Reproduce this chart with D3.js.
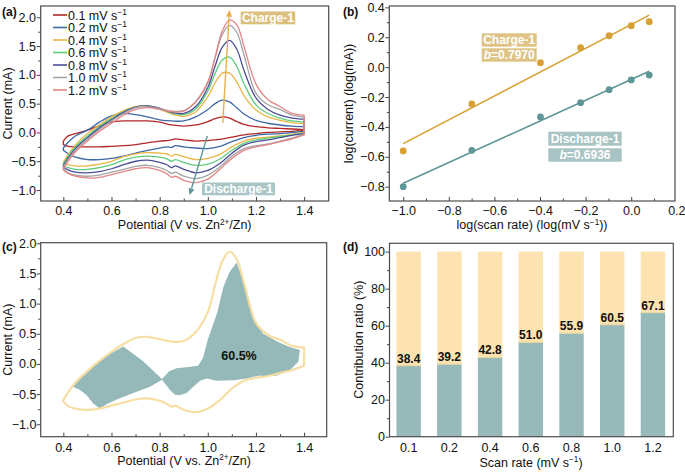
<!DOCTYPE html>
<html><head><meta charset="utf-8">
<script src="https://cdn.jsdelivr.net/npm/d3@7"></script>
<style>body{margin:0;background:#fff}svg{display:block}</style>
</head><body><svg id="c" width="685" height="472"></svg>
<script>
// ---------------- data ----------------
const scanRates = ["0.1", "0.2", "0.4", "0.6", "0.8", "1.0", "1.2"];
const cvColors = ["#b3282a", "#3d69a6", "#e9b647", "#5fcd7f", "#4b4e98", "#a4a4a4", "#e58585"];

// anodic (upper) branches, potential in V, current in mA
const potUp = [0.40,0.42,0.45,0.50,0.55,0.60,0.65,0.70,0.75,0.80,0.85,0.90,0.95,1.00,1.03,1.06,1.09,1.12,1.15,1.20,1.25,1.30,1.35,1.40];
const up01 = [-0.15,-0.06,-0.02,0.04,0.12,0.18,0.20,0.20,0.20,0.18,0.13,0.11,0.13,0.19,0.24,0.27,0.25,0.19,0.14,0.10,0.08,0.07,0.06,0.05];
const up02 = [-0.27,-0.17,-0.06,0.04,0.18,0.29,0.33,0.31,0.27,0.22,0.20,0.20,0.27,0.40,0.50,0.56,0.53,0.43,0.32,0.21,0.16,0.13,0.11,0.10];
const up04 = [-0.52,-0.38,-0.22,-0.02,0.13,0.27,0.38,0.45,0.46,0.40,0.32,0.28,0.36,0.62,0.86,1.03,1.03,0.88,0.64,0.39,0.27,0.21,0.17,0.15];
const up06 = [-0.55,-0.41,-0.25,-0.06,0.10,0.24,0.36,0.44,0.46,0.41,0.34,0.31,0.41,0.72,1.02,1.26,1.31,1.15,0.85,0.48,0.33,0.25,0.20,0.18];
const up08 = [-0.58,-0.44,-0.28,-0.09,0.08,0.22,0.35,0.44,0.46,0.42,0.35,0.33,0.45,0.78,1.15,1.48,1.60,1.45,1.08,0.60,0.40,0.30,0.25,0.23];
const up10 = [-0.60,-0.47,-0.31,-0.12,0.05,0.20,0.33,0.43,0.45,0.41,0.37,0.38,0.53,0.86,1.30,1.70,1.86,1.74,1.35,0.68,0.48,0.40,0.30,0.27];
const up12 = [-0.63,-0.50,-0.34,-0.15,0.02,0.16,0.30,0.40,0.43,0.40,0.36,0.37,0.54,0.88,1.30,1.76,1.95,1.87,1.50,0.84,0.57,0.45,0.33,0.30];

// cathodic (lower) branches
const potDown = [1.40,1.35,1.30,1.25,1.20,1.15,1.10,1.05,1.00,0.95,0.90,0.865,0.85,0.83,0.80,0.75,0.70,0.65,0.60,0.55,0.50,0.45,0.42,0.40];
const down01 = [0.04,0.02,0.01,0.00,-0.02,-0.04,-0.08,-0.12,-0.14,-0.15,-0.13,-0.11,-0.13,-0.14,-0.15,-0.18,-0.21,-0.23,-0.24,-0.25,-0.25,-0.25,-0.24,-0.21];
const down02 = [0.02,0.00,-0.02,-0.03,-0.05,-0.09,-0.16,-0.24,-0.28,-0.27,-0.25,-0.23,-0.26,-0.25,-0.27,-0.31,-0.36,-0.41,-0.45,-0.47,-0.47,-0.43,-0.37,-0.31];
const down04 = [0.00,-0.03,-0.06,-0.08,-0.10,-0.15,-0.25,-0.38,-0.45,-0.47,-0.42,-0.38,-0.41,-0.37,-0.36,-0.35,-0.37,-0.42,-0.50,-0.55,-0.58,-0.58,-0.56,-0.53];
const down06 = [-0.01,-0.04,-0.07,-0.10,-0.13,-0.19,-0.31,-0.46,-0.55,-0.57,-0.52,-0.47,-0.50,-0.46,-0.43,-0.41,-0.43,-0.48,-0.56,-0.61,-0.64,-0.64,-0.61,-0.57];
const down08 = [-0.02,-0.05,-0.09,-0.13,-0.16,-0.22,-0.36,-0.54,-0.66,-0.70,-0.64,-0.58,-0.61,-0.56,-0.52,-0.48,-0.50,-0.56,-0.63,-0.68,-0.70,-0.69,-0.65,-0.60];
const down10 = [-0.03,-0.10,-0.15,-0.20,-0.23,-0.28,-0.41,-0.60,-0.74,-0.80,-0.76,-0.69,-0.71,-0.66,-0.61,-0.57,-0.59,-0.64,-0.69,-0.74,-0.76,-0.74,-0.70,-0.62];
const down12 = [-0.04,-0.11,-0.16,-0.21,-0.25,-0.31,-0.45,-0.64,-0.81,-0.87,-0.83,-0.76,-0.78,-0.72,-0.66,-0.61,-0.63,-0.68,-0.73,-0.78,-0.79,-0.76,-0.71,-0.65];

// panel (a) trend arrows (V, mA)
const chargeArrow = [[1.062, 0.17], [1.090, 2.13]];
const dischargeArrow = [[0.998, -0.06], [0.924, -1.09]];

// panel (b)
const logRate = [-1.0, -0.699, -0.398, -0.222, -0.097, 0.0, 0.079];
const chargeLogI = [-0.561, -0.247, 0.030, 0.130, 0.210, 0.277, 0.304];
const dischargeLogI = [-0.800, -0.557, -0.334, -0.238, -0.151, -0.086, -0.053];
const chargeB = 0.7970, chargeA = 0.285;
const dischargeB = 0.6936, dischargeA = -0.083;

// panel (c) capacitive region at 1.0 mV/s (polygon)
const capV = [0.435,0.48,0.55,0.60,0.649,0.69,0.73,0.77,0.81,0.84,0.87,0.92,0.96,0.98,1.00,1.04,1.065,1.09,1.12,1.162,1.19,1.23,1.29,1.34,1.383,1.376,1.342,1.287,1.23,1.217,1.162,1.106,1.037,0.996,0.968,0.94,0.912,0.885,0.864,0.843,0.81,0.76,0.691,0.622,0.58,0.552,0.525,0.497,0.47];
const capI = [-0.37,-0.18,0.05,0.18,0.29,0.17,0.05,-0.10,-0.25,-0.12,-0.07,-0.05,-0.03,0.10,0.40,0.86,1.28,1.52,1.68,1.22,0.78,0.50,0.37,0.28,0.23,0.035,-0.10,-0.19,-0.21,-0.19,-0.24,-0.27,-0.28,-0.24,-0.28,-0.38,-0.48,-0.52,-0.51,-0.43,-0.26,-0.38,-0.48,-0.59,-0.67,-0.74,-0.66,-0.52,-0.43];
const capLabel = "60.5%";

// panel (d)
const capPct = [38.4, 39.2, 42.8, 51.0, 55.9, 60.5, 67.1];

// ---------------- drawing ----------------
const FONT = '"Liberation Sans", Arial, Helvetica, sans-serif';
const svg = d3.select("#c");
const upSets = [up01, up02, up04, up06, up08, up10, up12];
const downSets = [down01, down02, down04, down06, down08, down10, down12];

function loopPath(k, line) {
  const upPts = potUp.map((v, i) => [v, upSets[k][i]]);
  const dnPts = potDown.map((v, i) => [v, downSets[k][i]]);
  return line(upPts) + "L" + line(dnPts).slice(1) + "Z";
}

function styleAxis(gg) {
  gg.select(".domain").remove();
  gg.selectAll("line").attr("stroke", "#444").attr("stroke-width", 1);
  gg.selectAll("text").attr("font-family", FONT).attr("font-size", 12.5).attr("fill", "#111");
}

function drawAxes(x, y, o) {
  const g = svg.append("g");
  const [x0, x1] = x.range(), [y0, y1] = y.range();
  const fx = o.frameX0 || x0;
  const ax = d3.axisBottom(x).tickValues(o.xMajor).tickFormat(o.xFmt).tickSize(-4).tickSizeOuter(0).tickPadding(o.xPad);
  const axm = d3.axisBottom(x).tickValues(o.xMinor).tickFormat("").tickSize(-2.5).tickSizeOuter(0);
  const ay = d3.axisLeft(y).tickValues(o.yMajor).tickFormat(o.yFmt).tickSize(4).tickSizeOuter(0).tickPadding(o.yPad);
  const aym = d3.axisLeft(y).tickValues(o.yMinor).tickFormat("").tickSize(2.5).tickSizeOuter(0);
  [[ax, "b"], [axm, "b"], [ay, "l"], [aym, "l"]].forEach(([a, s]) => {
    const gg = g.append("g").attr("transform", s === "b" ? `translate(0,${y0})` : `translate(${fx},0)`).call(a);
    styleAxis(gg);
  });
  g.append("rect").attr("x", fx).attr("y", y1).attr("width", x1 - fx).attr("height", y0 - y1)
    .attr("fill", "none").attr("stroke", "#4d4d4d").attr("stroke-width", 1.2);
  return g;
}

function title(x, y, parts, rot) {
  const t = svg.append("text").attr("font-family", FONT).attr("font-size", 12.5).attr("fill", "#111")
    .attr("text-anchor", "middle");
  if (rot) t.attr("transform", `translate(${x},${y}) rotate(-90)`);
  else t.attr("x", x).attr("y", y);
  parts.forEach(p => {
    const ts = t.append("tspan").text(p.t);
    if (p.sup) ts.attr("dy", -4.5).attr("font-size", 8.2);
    if (p.back) ts.attr("dy", 4.5);
  });
  return t;
}
function panelLabel(x, y, s) {
  svg.append("text").attr("x", x).attr("y", y).attr("font-family", FONT).attr("font-size", 12)
    .attr("font-weight", "bold").attr("fill", "#111").text(s);
}
function tagBox(x, y, w, h, fill, parts) {
  svg.append("rect").attr("x", x).attr("y", y).attr("width", w).attr("height", h).attr("fill", fill);
  const t = svg.append("text").attr("x", x + w / 2).attr("y", y + h / 2 + 4.3).attr("text-anchor", "middle")
    .attr("font-family", FONT).attr("font-size", 12).attr("font-weight", "bold").attr("fill", "#fff");
  parts.forEach(p => { const ts = t.append("tspan").text(p.t); if (p.i) ts.attr("font-style", "italic"); });
}
function arrow(p0, p1, color) {
  const dx = p1[0] - p0[0], dy = p1[1] - p0[1], L = Math.hypot(dx, dy), ux = dx / L, uy = dy / L;
  const hl = 7, hw = 3;
  const bx = p1[0] - ux * hl, by = p1[1] - uy * hl;
  svg.append("line").attr("x1", p0[0]).attr("y1", p0[1]).attr("x2", bx).attr("y2", by)
    .attr("stroke", color).attr("stroke-width", 1.4);
  svg.append("path").attr("d", `M${p1[0]},${p1[1]}L${bx - uy * hw},${by + ux * hw}L${bx + uy * hw},${by - ux * hw}Z`)
    .attr("fill", color);
}

const cvTicks = {
  xMajor: [0.4, 0.6, 0.8, 1.0, 1.2, 1.4], xMinor: [0.5, 0.7, 0.9, 1.1, 1.3], xFmt: d3.format(".1f"),
  yMajor: [-1.0, -0.5, 0.0, 0.5, 1.0, 1.5, 2.0], yMinor: [-0.75, -0.25, 0.25, 0.75, 1.25, 1.75], yFmt: d3.format(".1f")
};

// ---------- panel (a) ----------
{
  const x = d3.scaleLinear().domain([0.306, 1.502]).range([40.7, 328.7]);
  const y = d3.scaleLinear().domain([-1.19, 2.196]).range([201, 6]);
  const line = d3.line().x(d => x(d[0])).y(d => y(d[1])).curve(d3.curveCatmullRom.alpha(0.5));
  svg.append("clipPath").attr("id", "clipA").append("rect")
    .attr("x", 40.7).attr("y", 6).attr("width", 288).attr("height", 195);
  const g = svg.append("g").attr("clip-path", "url(#clipA)");
  scanRates.forEach((r, k) => {
    g.append("path").attr("d", loopPath(k, line)).attr("fill", "none")
      .attr("stroke", cvColors[k]).attr("stroke-width", 1.3).attr("stroke-linejoin", "round");
  });
  drawAxes(x, y, Object.assign({ xPad: 5.3, yPad: 0.7 }, cvTicks));
  // legend
  scanRates.forEach((r, k) => {
    const cy = 15 + k * 12.5;
    svg.append("line").attr("x1", 53).attr("x2", 67).attr("y1", cy).attr("y2", cy)
      .attr("stroke", cvColors[k]).attr("stroke-width", 1.6);
    const t = svg.append("text").attr("x", 68).attr("y", cy + 4.5).attr("font-family", FONT)
      .attr("font-size", 12.5).attr("fill", "#111");
    t.append("tspan").text(r + " mV s");
    t.append("tspan").attr("dy", -5).attr("font-size", 8.5).text("\u22121");
  });
  arrow(chargeArrow[0].map((v, i) => i ? y(v) : x(v)), chargeArrow[1].map((v, i) => i ? y(v) : x(v)), "#e6b04c");
  arrow(dischargeArrow[0].map((v, i) => i ? y(v) : x(v)), dischargeArrow[1].map((v, i) => i ? y(v) : x(v)), "#5f9898");
  tagBox(240.7, 11.5, 54.5, 12.8, "#dcbf7c", [{ t: "Charge-1" }]);
  tagBox(202, 182.5, 73, 12.8, "#a9c5c5", [{ t: "Discharge-1" }]);
  title(184.7, 229, [{ t: "Potential (V vs. Zn" }, { t: "2+", sup: true }, { t: "/Zn)", back: true }]);
  title(12.2, 103.5, [{ t: "Current (mA)" }], true);
  panelLabel(2, 16, "(a)");
}

// ---------- panel (b) ----------
{
  const x = d3.scaleLinear().domain([-1.061, 0.192]).range([389.3, 675]);
  const y = d3.scaleLinear().domain([-0.896, 0.409]).range([201, 6]);
  const fits = [[chargeA, chargeB, chargeLogI, "#d8a033"], [dischargeA, dischargeB, dischargeLogI, "#5e9696"]];
  fits.forEach(([a, b, ys, col]) => {
    const xs = [logRate[0], logRate[logRate.length - 1]];
    svg.append("line").attr("x1", x(xs[0])).attr("y1", y(a + b * xs[0])).attr("x2", x(xs[1])).attr("y2", y(a + b * xs[1]))
      .attr("stroke", col).attr("stroke-width", 1.6);
    svg.append("g").selectAll("circle").data(logRate).join("circle")
      .attr("cx", d => x(d)).attr("cy", (d, i) => y(ys[i])).attr("r", 3.4).attr("fill", col);
  });
  const xt = d3.range(-10, 3, 2).map(v => v / 10);
  const xm = d3.range(-9, 2, 2).map(v => v / 10);
  drawAxes(x, y, {
    xMajor: xt.filter(v => v <= 0.19), xMinor: xm, xFmt: d3.format(".1f"), xPad: 5.3,
    yMajor: [-0.8, -0.6, -0.4, -0.2, 0.0, 0.2, 0.4], yMinor: [-0.7, -0.5, -0.3, -0.1, 0.1, 0.3], yFmt: d3.format(".1f"), yPad: 0.5
  });
  // tick label 0.2 sits on the right frame edge
  svg.append("text").attr("x", x(0.2)).attr("y", 201 + 5.3 + 8.9).attr("text-anchor", "middle")
    .attr("font-family", FONT).attr("font-size", 12.5).attr("fill", "#111").text("0.2");
  tagBox(481.7, 33.3, 55, 13.4, "#dec384", [{ t: "Charge-1" }]);
  tagBox(481.7, 48.3, 55, 13.4, "#dec384", [{ t: "b", i: true }, { t: "=0.7970" }]);
  tagBox(548.3, 131.7, 73.4, 14, "#a8c4c4", [{ t: "Discharge-1" }]);
  tagBox(548.3, 148.3, 73.4, 13.4, "#a8c4c4", [{ t: "b", i: true }, { t: "=0.6936" }]);
  title(532, 229, [{ t: "log(scan rate) (log(mV s" }, { t: "\u22121", sup: true }, { t: "))", back: true }]);
  title(353, 103.5, [{ t: "log(current) (log(mA))" }], true);
  panelLabel(343, 16, "(b)");
}

// ---------- panel (c) ----------
{
  const x = d3.scaleLinear().domain([0.306, 1.494]).range([40.7, 326.7]);
  const y = d3.scaleLinear().domain([-1.206, 2.01]).range([436.7, 242.7]);
  const line = d3.line().x(d => x(d[0])).y(d => y(d[1])).curve(d3.curveCatmullRom.alpha(0.5));
  const poly = d3.line().x(d => x(d[0])).y(d => y(d[1])).curve(d3.curveLinearClosed);
  svg.append("path").attr("d", poly(capV.map((v, i) => [v, capI[i]]))).attr("fill", "#95b8b8");
  svg.append("path").attr("d", loopPath(5, line)).attr("fill", "none")
    .attr("stroke", "#f7dea3").attr("stroke-width", 2.2).attr("stroke-linejoin", "round");
  drawAxes(x, y, Object.assign({ xPad: 6.2, yPad: 0.3 }, cvTicks));
  svg.append("text").attr("x", 239).attr("y", 359.5).attr("text-anchor", "middle").attr("font-family", FONT)
    .attr("font-size", 12.5).attr("font-weight", "bold").attr("fill", "#111").text(capLabel);
  title(184, 464.5, [{ t: "Potential (V vs. Zn" }, { t: "2+", sup: true }, { t: "/Zn)", back: true }]);
  title(12, 339.7, [{ t: "Current (mA)" }], true);
  panelLabel(2, 251, "(c)");
}

// ---------- panel (d) ----------
{
  const x = d3.scaleBand().domain(scanRates).range([388.3, 673.3]).paddingInner(0.4).paddingOuter(0.2);
  const y = d3.scaleLinear().domain([0, 104.5]).range([436.7, 243.3]);
  const fx = 389.5;
  const g = svg.append("g");
  g.selectAll("rect.top").data(capPct).join("rect").attr("class", "top")
    .attr("x", (d, i) => x(scanRates[i])).attr("width", x.bandwidth())
    .attr("y", y(100)).attr("height", d => y(d) - y(100)).attr("fill", "#fde3af");
  g.selectAll("rect.bot").data(capPct).join("rect").attr("class", "bot")
    .attr("x", (d, i) => x(scanRates[i])).attr("width", x.bandwidth())
    .attr("y", d => y(d)).attr("height", d => y(0) - y(d)).attr("fill", "#97b9b9");
  g.selectAll("line.sep").data(capPct).join("line").attr("class", "sep")
    .attr("x1", (d, i) => x(scanRates[i])).attr("x2", (d, i) => x(scanRates[i]) + x.bandwidth())
    .attr("y1", d => y(d)).attr("y2", d => y(d)).attr("stroke", "#e8d8a2").attr("stroke-width", 1.2);
  g.selectAll("text.v").data(capPct).join("text").attr("class", "v")
    .attr("x", (d, i) => x(scanRates[i]) + x.bandwidth() / 2).attr("y", d => y(d) - 3)
    .attr("text-anchor", "middle").attr("font-family", FONT).attr("font-size", 12).attr("font-weight", "bold")
    .attr("fill", "#111").text(d => d.toFixed(1));
  const gy = svg.append("g");
  const ay = d3.axisLeft(y).tickValues([0, 20, 40, 60, 80, 100]).tickSize(4).tickSizeOuter(0).tickPadding(0.5);
  const aym = d3.axisLeft(y).tickValues([10, 30, 50, 70, 90]).tickFormat("").tickSize(2.5).tickSizeOuter(0);
  [ay, aym].forEach(a => styleAxis(gy.append("g").attr("transform", `translate(${fx},0)`).call(a)));
  const ax = d3.axisBottom(x).tickSize(0).tickPadding(6.2);
  styleAxis(svg.append("g").attr("transform", "translate(0,436.7)").call(ax));
  svg.append("rect").attr("x", fx).attr("y", 243.3).attr("width", 673.3 - fx).attr("height", 193.4)
    .attr("fill", "none").attr("stroke", "#4d4d4d").attr("stroke-width", 1.2);
  title(531, 466.5, [{ t: "Scan rate (mV s" }, { t: "\u22121", sup: true }, { t: ")", back: true }]);
  title(363, 339.7, [{ t: "Contribution ratio (%)" }], true);
  panelLabel(343, 251, "(d)");
}
</script></body></html>
